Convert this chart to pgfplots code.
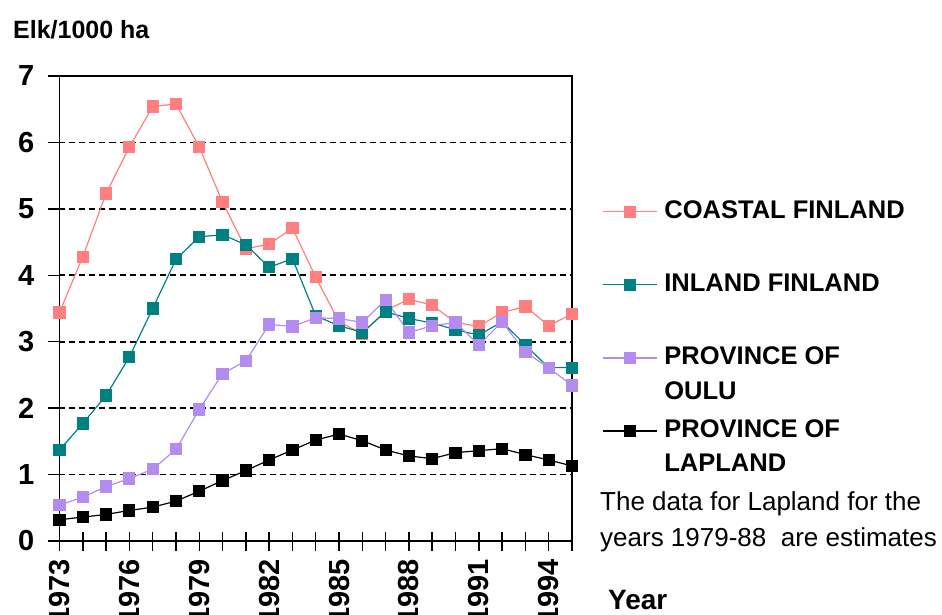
\documentclass[border=0pt]{standalone}
\usepackage{pgfplots}
\pgfplotsset{compat=1.18}
\usepackage{fontspec}
\setmainfont{Liberation Sans}
\definecolor{coastal}{HTML}{FF7F80}
\definecolor{inland}{HTML}{008080}
\definecolor{oulu}{HTML}{B38CEF}
\newcommand{\lrow}[2]{\rule{0pt}{#1}#2}
\pgfplotsset{limg/.style={legend image code/.code={\draw[mark repeat=2,mark phase=2,##1] plot coordinates {(0pt,#1) (27pt,#1) (54pt,#1)};}}}
\begin{document}
\begin{tikzpicture}
\path[use as bounding box] (-59.5pt,-73pt) rectangle (882.5pt,541pt);
\begin{axis}[
  at={(0pt,0pt)}, anchor=south west,
  scale only axis, width=512.5pt, height=465pt,
  xmin=1973, xmax=1995, ymin=0, ymax=7,
  clip=false,
  axis line style={line width=1.6pt},
  xtick={1973,1976,...,1994},
  minor xtick={1973,...,1995},
  ytick={0,...,7},
  tick pos=left,
  xtick align=center, ytick align=outside,
  major tick length=12pt,
  xtick style={line width=1.5pt, black, /pgfplots/major tick length=19pt, /pgfplots/minor tick length=19pt},
  ytick style={line width=1.5pt, black},
  ymajorgrids,
  major grid style={black, line width=1.8pt, dash pattern=on 6pt off 4pt},
  /pgf/number format/1000 sep={},
  /pgf/number format/assume math mode=true,
  yticklabel style={font=\fontsize{29}{29}\selectfont\bfseries, inner sep=0pt, xshift=-13pt},
  xticklabel style={font=\fontsize{29}{29}\selectfont\bfseries, inner sep=0pt, rotate=90, anchor=east, xshift=-12pt},
  legend cell align=left,
  legend style={at={(axis description cs:1,1)}, anchor=north west, xshift=30pt, yshift=-122.3pt,
    draw=none, fill=none, inner sep=0pt, row sep=0pt, column sep=7pt,
    nodes={inner sep=0pt},
    font=\fontsize{25.5}{30}\selectfont\bfseries},
  limg=-2.4pt,
  every axis plot/.append style={line width=1.2pt, mark=square*, mark size=5.5pt, mark options={solid}},
]
\addplot[coastal, mark options={fill=coastal, draw=coastal}, limg=-2.4pt] table {
1973 3.44
1974 4.28
1975 5.23
1976 5.93
1977 6.54
1978 6.58
1979 5.93
1980 5.10
1981 4.40
1982 4.47
1983 4.71
1984 3.97
1985 3.30
1986 3.12
1987 3.47
1988 3.64
1989 3.55
1990 3.29
1991 3.23
1992 3.44
1993 3.53
1994 3.24
1995 3.42
};
\addlegendentry{\lrow{20pt}{COASTAL FINLAND}}
\addplot[inland, mark options={fill=inland, draw=inland}, limg=-28.25pt] table {
1973 1.37
1974 1.77
1975 2.19
1976 2.77
1977 3.50
1978 4.24
1979 4.58
1980 4.61
1981 4.46
1982 4.12
1983 4.25
1984 3.39
1985 3.24
1986 3.14
1987 3.45
1988 3.35
1989 3.28
1990 3.18
1991 3.10
1992 3.30
1993 2.95
1994 2.61
1995 2.61
};
\addlegendentry{\lrow{71.7pt}{INLAND FINLAND}}
\addplot[oulu, mark options={fill=oulu, draw=oulu}, limg=-28.25pt] table {
1973 0.54
1974 0.66
1975 0.82
1976 0.94
1977 1.08
1978 1.38
1979 1.98
1980 2.52
1981 2.71
1982 3.26
1983 3.23
1984 3.36
1985 3.35
1986 3.29
1987 3.63
1988 3.14
1989 3.24
1990 3.29
1991 2.95
1992 3.30
1993 2.84
1994 2.61
1995 2.34
};
\addlegendentry{\lrow{71.7pt}{PROVINCE OF}}
\addlegendimage{empty legend}
\addlegendentry{\lrow{33.3pt}{OULU}}
\addplot[black, mark options={fill=black, draw=black}, limg=-10.75pt] table {
1973 0.32
1974 0.36
1975 0.40
1976 0.46
1977 0.51
1978 0.60
1979 0.75
1980 0.91
1981 1.06
1982 1.22
1983 1.37
1984 1.52
1985 1.61
1986 1.51
1987 1.37
1988 1.28
1989 1.24
1990 1.33
1991 1.36
1992 1.39
1993 1.30
1994 1.22
1995 1.13
};
\addlegendentry{\lrow{36.7pt}{PROVINCE OF}}
\addlegendimage{empty legend}
\addlegendentry{\lrow{32.3pt}{LAPLAND}}
\end{axis}
\node[anchor=base west, inner sep=0pt, font=\fontsize{25}{25}\selectfont\bfseries] at (-46.5pt,502pt) {Elk/1000 ha};
\node[anchor=base west, inner sep=0pt, font=\fontsize{28}{28}\selectfont\bfseries] at (548.5pt,-68pt) {Year};
\node[anchor=base west, inner sep=0pt, font=\fontsize{26}{26}\selectfont] at (540.5pt,31pt) {The data for Lapland for the};
\node[anchor=base west, inner sep=0pt, font=\fontsize{26}{26}\selectfont] at (540.5pt,-5pt) {years 1979-88\ \ are estimates};
\end{tikzpicture}
\end{document}
